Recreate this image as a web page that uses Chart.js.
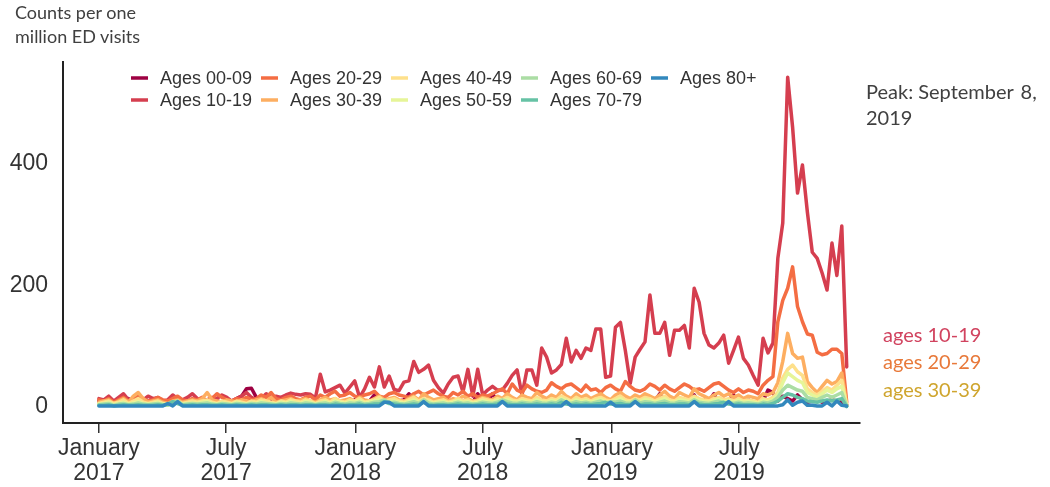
<!DOCTYPE html>
<html>
<head>
<meta charset="utf-8">
<script src="https://cdn.jsdelivr.net/npm/chart.js@4.4.1/dist/chart.umd.min.js"></script>
<style>
html,body{margin:0;padding:0;background:#fff;}
#wrap{position:relative;width:1050px;height:487px;overflow:hidden;background:#fff;}
#c{position:absolute;left:0;top:0;}
.note{position:absolute;font-family:Lato,"Open Sans",sans-serif;white-space:nowrap;}
</style>
</head>
<body>
<div id="wrap">
<canvas id="c" width="1050" height="487"></canvas>
<div class="note" style="left:15px;top:0px;font-size:18px;line-height:24px;color:#404040">Counts per one<br>million ED visits</div>
<div class="note" style="left:866px;top:78px;font-size:20px;line-height:26px;color:#404040">Peak: September <span style="margin-left:2px">8,</span><br>2019</div>
<div class="note" style="left:883px;top:322px;font-size:20px;line-height:24px;color:#D1435F">ages 10-19</div>
<div class="note" style="left:883px;top:349px;font-size:20px;line-height:24px;color:#E8793A">ages 20-29</div>
<div class="note" style="left:883px;top:377px;font-size:20px;line-height:24px;color:#CFA52E">ages 30-39</div>
</div>
<script>
// ---- data (weekly, first week starting 2017-01-01) ----
const firstWeek = '2017-01-01';
const ageGroups = ['Ages 00-09','Ages 10-19','Ages 20-29','Ages 30-39','Ages 40-49','Ages 50-59','Ages 60-69','Ages 70-79','Ages 80+'];

const ages00_09 = [
10,8,12,6,8,10,14,8,6,10,
8,12,10,6,8,10,12,8,10,8,
6,10,8,12,10,8,6,10,14,18,
30,31,16,10,8,12,10,8,10,12,
8,10,12,8,6,10,8,12,10,8,
10,8,12,10,8,10,20,8,10,12,
8,10,12,22,10,8,10,12,8,10,
8,10,12,8,10,12,8,22,10,8,
22,10,8,12,10,8,10,12,8,10,
12,10,8,12,10,8,12,10,8,10,
8,10,12,10,8,10,12,8,10,12,
8,10,12,10,22,10,8,12,10,8,
10,20,8,12,10,22,8,10,12,20,
8,10,12,8,10,10,28,24,10,18,
14,10,20,12,8,10,12,8,10,12,
10,8,4];

const ages10_19 = [
14,12,18,10,16,22,12,14,10,12,
18,14,16,10,12,20,14,12,16,22,
14,10,12,16,14,20,16,10,14,18,
24,16,12,14,22,16,18,16,20,23,
21,20,22,21,15,54,25,28,32,36,
23,33,43,16,30,49,33,66,33,51,
29,27,41,43,75,57,62,69,44,32,
23,38,49,51,25,62,18,62,20,28,
34,28,28,39,52,61,20,61,61,36,
97,82,56,61,70,113,74,93,80,97,
93,128,128,49,51,131,139,93,39,82,
95,107,184,121,121,139,85,126,126,134,
97,195,172,121,102,97,105,118,72,93,
115,80,69,52,36,113,89,105,244,302,
541,459,351,397,320,254,244,220,192,269,
216,297,66];

const ages20_29 = [
12,10,14,8,12,16,10,12,18,14,
10,12,16,12,10,14,18,12,10,14,
12,16,10,14,22,16,12,10,14,12,
16,12,14,20,16,24,14,12,16,18,
14,12,16,18,12,20,16,22,26,18,
20,24,18,16,20,22,26,18,16,22,
24,20,18,16,22,26,20,24,28,22,
18,16,24,20,26,18,22,16,20,18,
22,26,30,22,38,28,24,36,30,26,
24,28,40,34,30,36,38,32,26,36,
28,30,24,32,36,30,26,42,34,28,
26,30,38,34,28,36,30,26,32,38,
34,28,30,26,32,38,40,34,28,24,
30,24,28,26,22,36,44,50,140,175,
195,230,165,140,120,118,90,86,88,95,
95,88,8];

const ages30_39 = [
8,10,12,6,10,14,8,18,24,14,
8,10,12,8,6,10,12,8,10,12,
10,14,24,12,10,8,12,10,8,12,
10,8,12,14,10,16,8,10,12,14,
10,12,14,10,8,12,16,12,14,10,
12,14,10,16,12,10,14,18,12,14,
16,12,10,14,18,12,22,16,12,14,
16,10,14,12,18,14,10,12,16,14,
12,18,14,22,16,12,20,16,14,24,
18,14,20,16,26,18,14,22,16,20,
14,18,22,16,12,20,24,18,14,20,
16,22,18,14,20,26,18,14,24,20,
16,30,22,18,14,20,24,18,22,16,
20,14,18,16,14,22,20,24,40,75,
121,88,80,82,42,32,24,34,44,38,
42,56,4];

const ages40_49 = [
6,8,10,6,8,12,6,10,14,8,
6,8,10,6,4,8,10,6,8,10,
8,10,12,8,6,10,8,6,10,8,
6,10,8,12,10,8,6,10,8,12,
10,8,12,10,6,10,12,8,14,10,
8,12,10,14,8,10,12,16,10,12,
14,10,8,12,16,10,14,12,8,10,
12,8,10,14,10,12,8,10,14,12,
10,14,12,16,12,10,14,12,10,16,
12,10,14,12,18,14,10,16,12,14,
10,14,16,12,10,14,18,12,10,14,
12,16,14,10,14,18,12,10,16,14,
12,18,14,12,10,14,16,12,14,10,
14,10,12,10,8,14,12,16,24,48,
62,69,58,52,30,24,20,26,32,28,
36,44,3];

const ages50_59 = [
5,6,8,4,6,8,5,7,9,6,
5,6,8,5,4,6,8,5,6,7,
6,8,9,6,5,7,6,5,8,6,
5,7,6,9,7,6,5,8,6,9,
7,6,9,8,5,7,9,6,10,8,
6,9,8,11,6,8,10,12,8,9,
10,8,6,9,12,8,11,9,6,8,
9,6,8,11,8,9,6,8,11,9,
8,11,9,13,9,8,11,9,8,12,
9,8,11,9,14,11,8,12,9,11,
8,11,13,9,8,11,14,9,8,11,
9,13,11,8,11,14,9,8,12,11,
9,14,11,9,8,11,13,9,11,8,
11,8,9,8,6,11,9,13,20,40,
56,50,44,40,24,20,16,22,28,24,
30,34,2];

const ages60_69 = [
4,5,6,3,5,6,4,5,7,5,
4,5,6,4,3,8,10,4,5,6,
5,6,7,5,4,6,5,4,6,5,
4,6,5,7,6,5,4,6,5,7,
6,5,7,6,4,6,7,5,8,6,
5,7,6,8,5,6,8,9,12,7,
8,6,5,7,9,6,12,7,5,6,
7,5,6,8,6,7,5,6,8,7,
6,8,12,9,7,6,8,7,6,9,
7,6,8,7,12,8,6,9,7,8,
6,8,10,7,9,8,10,7,6,12,
7,9,8,6,8,10,7,6,9,8,
7,12,8,7,6,8,10,7,8,6,
8,6,7,6,5,8,7,10,16,28,
36,32,28,26,16,14,12,16,20,16,
20,24,2];

const ages70_79 = [
3,3,4,2,3,4,3,3,4,3,
3,3,4,3,5,9,6,3,3,4,
3,4,4,3,3,4,3,3,4,3,
3,4,3,4,4,3,3,4,3,4,
4,3,4,4,3,4,4,3,5,4,
3,4,4,5,3,4,5,5,9,6,
5,4,3,4,5,4,8,4,3,4,
4,3,4,5,4,4,3,4,5,4,
4,5,9,5,4,4,5,4,4,5,
4,4,5,4,8,5,4,5,4,5,
4,5,6,8,5,5,6,4,4,9,
4,5,5,4,5,6,4,4,5,5,
4,9,5,4,4,5,6,8,5,4,
5,4,4,4,3,5,4,6,10,16,
22,20,16,14,10,9,8,10,12,10,
12,14,1];

const ages80plus = [
2,2,2,2,2,2,2,2,2,2,
2,2,2,2,6,2,9,2,2,2,
2,2,2,2,2,2,2,2,2,2,
2,2,2,2,2,2,2,2,2,2,
2,2,2,2,2,2,2,2,2,2,
2,2,2,2,2,2,2,2,8,8,
2,2,2,2,2,2,9,2,2,2,
2,2,2,2,2,2,2,2,2,2,
2,2,9,2,2,2,2,2,2,2,
2,2,2,2,2,9,2,2,2,2,
2,2,2,2,8,2,2,2,2,9,
2,2,2,2,2,2,2,2,2,2,
2,9,2,2,2,2,2,2,9,2,
2,2,2,2,2,2,2,2,2,4,
12,3,8,10,3,3,2,2,8,2,
10,3,2];

const tickDates = ['2017-01-01','2017-07-01','2018-01-01','2018-07-01','2019-01-01','2019-07-01'];
const tickLabels = ['January 2017','July 2017','January 2018','July 2018','January 2019','July 2019'];
const yTickValues = [0, 200, 400];

const lineColors = ['#9E0142','#D53E4F','#F46D43','#FDAE61','#FEE08B','#E6F598','#ABDDA4','#66C2A5','#3288BD'];

// ---- build ----
const seriesList = [ages00_09, ages10_19, ages20_29, ages30_39, ages40_49, ages50_59, ages60_69, ages70_79, ages80plus];
const DAY = 864e5;
const weekOf = d => (Date.parse(d) - Date.parse(firstWeek)) / (7 * DAY);

const datasets = seriesList.map((vals, k) => ({
  label: ageGroups[k],
  data: vals.map((v, i) => ({x: i, y: v})),
  borderColor: lineColors[k],
  backgroundColor: lineColors[k],
  borderWidth: 3.5,
  pointRadius: 0,
  tension: 0,
  borderJoinStyle: 'round',
  borderCapStyle: 'round',
  fill: false,
  order: seriesList.length - 1 - k
}));

const ageLegend = {
  id: 'ageLegend',
  afterDatasetsDraw(chart) {
    const {ctx, chartArea} = chart;
    ctx.save();
    ctx.font = '18px "Liberation Sans", Arial, sans-serif';
    ctx.textBaseline = 'middle';
    ctx.textAlign = 'left';
    chart.data.datasets.forEach((ds, k) => {
      const col = Math.floor(k / 2), row = k % 2;
      const x = chartArea.left + 68 + col * 130;
      const y = chartArea.top + 16 + row * 22;
      ctx.strokeStyle = ds.borderColor;
      ctx.lineWidth = 3.5;
      ctx.lineCap = 'butt';
      ctx.beginPath(); ctx.moveTo(x, y); ctx.lineTo(x + 17, y); ctx.stroke();
      ctx.fillStyle = '#333333';
      ctx.fillText(ds.label, x + 29, y + 1);
    });
    ctx.restore();
  }
};

new Chart(document.getElementById('c'), {
  type: 'line',
  data: {datasets},
  plugins: [ageLegend],
  options: {
    responsive: false,
    animation: false,
    events: [],
    layout: {padding: {left: 0, top: 62, right: 190, bottom: 0}},
    plugins: {legend: {display: false}, tooltip: {enabled: false}, title: {display: false}},
    scales: {
      x: {
        type: 'linear',
        min: -7.3,
        max: 154.7,
        afterBuildTicks(scale) { scale.ticks = tickDates.map(d => ({value: weekOf(d)})); },
        afterFit(scale) { scale.height = 64; },
        grid: {display: true, drawOnChartArea: false, drawTicks: true, tickLength: 10, color: '#333333', lineWidth: 1.5},
        border: {display: true, color: '#222222', width: 2},
        ticks: {
          autoSkip: false, maxRotation: 0, minRotation: 0, padding: 3,
          color: '#333333',
          font: {family: '"Liberation Sans", Arial, sans-serif', size: 23, lineHeight: 1.1},
          callback: (v, i) => tickLabels[i].split(' ')
        }
      },
      y: {
        type: 'linear',
        min: -26,
        max: 566,
        afterBuildTicks(scale) { scale.ticks = yTickValues.map(v => ({value: v})); },
        afterFit(scale) { scale.width = 63; },
        grid: {display: false, drawTicks: false},
        border: {display: true, color: '#222222', width: 2},
        ticks: {
          padding: 15,
          color: '#333333',
          font: {family: '"Liberation Sans", Arial, sans-serif', size: 23}
        }
      }
    }
  }
});
</script>
</body>
</html>
